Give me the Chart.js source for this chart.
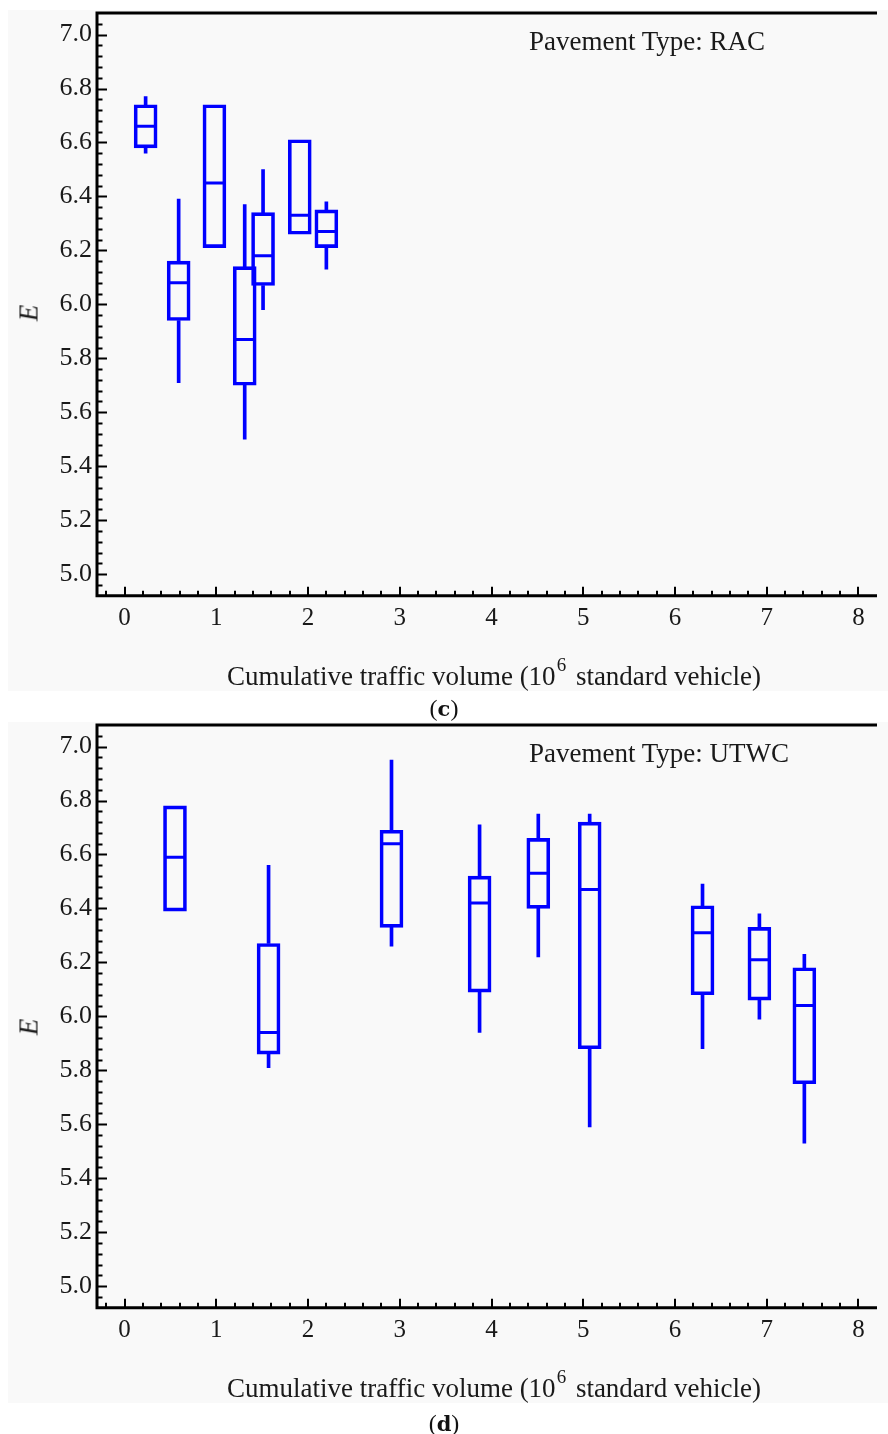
<!DOCTYPE html>
<html>
<head>
<meta charset="utf-8">
<script src="https://cdn.jsdelivr.net/npm/chart.js@4"></script>
<style>
  body { margin: 0; background: #fff; width: 888px; height: 1434px; position: relative; overflow: hidden;
         font-family: 'Liberation Serif', 'Times New Roman', serif; color: #1a1a1a; }
  .panel { position: absolute; left: 8px; width: 880px; height: 681px; background: #f9f9f9; }
  .wrap { position: absolute; left: 0; width: 888px; height: 700px; }
  .note { position: absolute; left: 529px; font-size: 27px; line-height: 1; white-space: nowrap; }
  .xtitle { position: absolute; left: 0; width: 988px; text-align: center; font-size: 27px; line-height: 1; white-space: nowrap; }
  .xtitle sup { font-size: 19px; position: relative; top: -4px; margin-left: 1px; margin-right: 3px; }
  .ytitle { position: absolute; left: 29px; font-size: 27px; font-style: italic; line-height: 1;
            transform: translate(-50%, -50%) rotate(-90deg); }
  .cap { position: absolute; left: 0; width: 888px; text-align: center; font-size: 24px; line-height: 1; color: #111; }
  .cap b { font-family: 'DejaVu Serif', serif; font-size: 21px; }
</style>
</head>
<body>
<div class="panel" style="top:10px"></div>
<div class="panel" style="top:722px"></div>
<div class="wrap" style="top:0px"><canvas id="chartC"></canvas></div>
<div class="wrap" style="top:712px"><canvas id="chartD"></canvas></div>

<div class="note" style="top:28px">Pavement Type: RAC</div>
<div class="note" style="top:740px">Pavement Type: UTWC</div>
<div class="xtitle" style="top:659px">Cumulative traffic volume (10<sup>6</sup> standard vehicle)</div>
<div class="xtitle" style="top:1371px">Cumulative traffic volume (10<sup>6</sup> standard vehicle)</div>
<div class="ytitle" style="top:313px">E</div>
<div class="ytitle" style="top:1027px">E</div>
<div class="cap" style="top:696px">(<b>c</b>)</div>
<div class="cap" style="top:1411px">(<b>d</b>)</div>

<script>
const xTicks = [0, 1, 2, 3, 4, 5, 6, 7, 8];
const yTicks = [5.0, 5.2, 5.4, 5.6, 5.8, 6.0, 6.2, 6.4, 6.6, 6.8, 7.0];

// (c) RAC
const racX   = [0.23, 0.59, 0.98, 1.31, 1.51, 1.91, 2.20];
const racMin = [6.56, 5.71, 6.21, 5.50, 5.98, 6.26, 6.13];
const racQ1  = [6.58, 5.94, 6.21, 5.70, 6.07, 6.26, 6.21];
const racMed = [6.66, 6.08, 6.45, 5.87, 6.18, 6.33, 6.27];
const racQ3  = [6.74, 6.16, 6.74, 6.14, 6.34, 6.61, 6.35];
const racMax = [6.77, 6.39, 6.74, 6.37, 6.50, 6.61, 6.38];

// (d) UTWC
const utwcX   = [0.55, 1.57, 2.91, 3.87, 4.51, 5.07, 6.30, 6.92, 7.41];
const utwcMin = [6.39, 5.81, 6.26, 5.94, 6.22, 5.59, 5.88, 5.99, 5.53];
const utwcQ1  = [6.39, 5.86, 6.33, 6.09, 6.40, 5.88, 6.08, 6.06, 5.75];
const utwcMed = [6.59, 5.94, 6.64, 6.42, 6.53, 6.47, 6.31, 6.21, 6.04];
const utwcQ3  = [6.78, 6.27, 6.69, 6.52, 6.66, 6.72, 6.41, 6.33, 6.18];
const utwcMax = [6.78, 6.56, 6.95, 6.71, 6.75, 6.75, 6.49, 6.38, 6.23];

const BLUE = '#0000ff';
const FONT = "'Liberation Serif', 'Times New Roman', serif";

// axis lines + inward ticks (major and minor)
const frame = {
  id: 'frame',
  afterDraw(chart) {
    const { ctx, chartArea: a, scales: { x, y } } = chart;
    ctx.save();
    ctx.strokeStyle = '#000';
    ctx.lineWidth = 3;
    ctx.beginPath();
    ctx.moveTo(a.right + 2, a.top);
    ctx.lineTo(a.left, a.top);
    ctx.lineTo(a.left, a.bottom);
    ctx.lineTo(a.right + 2, a.bottom);
    ctx.stroke();
    ctx.lineWidth = 2;
    ctx.beginPath();
    for (let i = -1; i <= 51; i++) {
      const v = 5 + i * 0.04;
      if (v > y.max || v < y.min) continue;
      const py = Math.round(y.getPixelForValue(v)) + 0.5;
      const len = i % 5 === 0 ? 10 : 5.5;
      ctx.moveTo(a.left, py);
      ctx.lineTo(a.left + len, py);
    }
    for (let i = -1; i <= 41; i++) {
      const v = i * 0.2;
      if (v > x.max || v < x.min) continue;
      const px = Math.round(x.getPixelForValue(v));
      const len = i % 5 === 0 ? 9 : 5;
      ctx.moveTo(px, a.bottom);
      ctx.lineTo(px, a.bottom - len);
    }
    ctx.stroke();
    ctx.restore();
  }
};

// first dataset is drawn on top in Chart.js, so medians go first
function boxDatasets(xs, mins, q1s, meds, q3s, maxs) {
  return [
    {
      type: 'scatter', showLine: false,
      pointStyle: 'line', pointRadius: 10, pointHoverRadius: 10,
      pointBorderColor: BLUE, pointBorderWidth: 3, pointBackgroundColor: BLUE,
      borderColor: BLUE, borderWidth: 3,
      data: xs.map((v, i) => ({ x: v, y: meds[i] }))
    },
    {
      type: 'bar', grouped: false, barThickness: 23,
      backgroundColor: 'rgba(0,0,0,0)', borderColor: BLUE, borderWidth: 3, borderSkipped: false,
      data: xs.map((v, i) => ({ x: v, y: [q1s[i], q3s[i]] }))
    },
    {
      type: 'bar', grouped: false, barThickness: 3,
      backgroundColor: BLUE, borderWidth: 0,
      data: xs.map((v, i) => ({ x: v, y: maxs[i] > q3s[i] ? [q3s[i], maxs[i]] : null }))
    },
    {
      type: 'bar', grouped: false, barThickness: 3,
      backgroundColor: BLUE, borderWidth: 0,
      data: xs.map((v, i) => ({ x: v, y: mins[i] < q1s[i] ? [mins[i], q1s[i]] : null }))
    }
  ];
}

function makeChart(id, datasets) {
  return new Chart(document.getElementById(id), {
    type: 'bar',
    data: { datasets: datasets },
    plugins: [frame],
    options: {
      responsive: true,
      maintainAspectRatio: false,
      animation: false,
      layout: { padding: { top: 10.6, left: 0, right: 0, bottom: 0 } },
      plugins: { legend: { display: false }, tooltip: { enabled: false } },
      scales: {
        x: {
          type: 'linear', min: -0.3, max: 8.18, offset: false,
          grid: { display: false, drawTicks: false }, border: { display: false },
          afterBuildTicks: s => { s.ticks = xTicks.map(v => ({ value: v })); },
          afterFit: s => { s.height = 104.3; s.paddingLeft = 0; s.paddingRight = 0; },
          ticks: {
            autoSkip: false, maxRotation: 0, padding: 8, color: '#1a1a1a',
            font: { family: FONT, size: 25 },
            callback: v => String(v)
          }
        },
        y: {
          type: 'linear', min: 4.92, max: 7.08,
          grid: { display: false, drawTicks: false }, border: { display: false },
          afterBuildTicks: s => { s.ticks = yTicks.map(v => ({ value: v })); },
          afterFit: s => { s.width = 97; s.paddingTop = 0; s.paddingBottom = 0; },
          ticks: {
            autoSkip: false, padding: 5, color: '#1a1a1a',
            font: { family: FONT, size: 26 },
            callback: v => Number(v).toFixed(1)
          }
        }
      }
    }
  });
}

makeChart('chartC', boxDatasets(racX, racMin, racQ1, racMed, racQ3, racMax));
makeChart('chartD', boxDatasets(utwcX, utwcMin, utwcQ1, utwcMed, utwcQ3, utwcMax));
</script>
</body>
</html>
